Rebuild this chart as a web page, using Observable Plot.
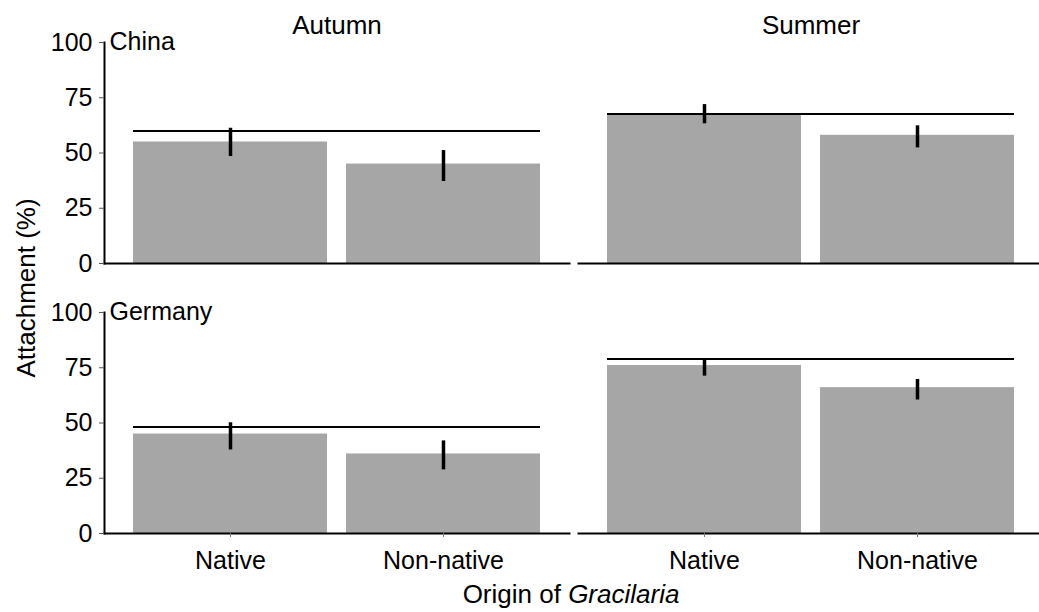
<!DOCTYPE html>
<html>
<head>
<meta charset="utf-8">
<script src="https://cdn.jsdelivr.net/npm/d3@7"></script>
<script src="https://cdn.jsdelivr.net/npm/@observablehq/plot@0.6"></script>
<style>
  html, body { margin: 0; padding: 0; background: white; overflow: hidden; }
  #chart { width: 1039px; height: 612px; overflow: hidden; }
</style>
</head>
<body>
<div id="chart"></div>
<script>
// ---- data ----
const seasons = ["Autumn", "Summer"];
const countries = ["China", "Germany"];
const origins = ["Native", "Non-native"];
const yTicks = [0, 25, 50, 75, 100];

const barCountry = ["China", "China", "China", "China", "Germany", "Germany", "Germany", "Germany"];
const barSeason  = ["Autumn", "Autumn", "Summer", "Summer", "Autumn", "Autumn", "Summer", "Summer"];
const barOrigin  = ["Native", "Non-native", "Native", "Non-native", "Native", "Non-native", "Native", "Non-native"];
const meanVals   = [55, 45, 67, 58, 45, 36, 76, 66];
const lowerVals  = [48.4, 37.1, 63.2, 52.3, 37.8, 28.8, 71.2, 60.4];
const upperVals  = [61.2, 51.1, 71.9, 62.3, 50.1, 41.9, 79.1, 69.7];

const refCountry = ["China", "China", "Germany", "Germany"];
const refSeason  = ["Autumn", "Summer", "Autumn", "Summer"];
const refValue   = [60, 67.6, 48.2, 79];

const xTitle = "Origin of ";
const xTitleItalic = "Gracilaria";
const yTitle = "Attachment (%)";

// ---- tables ----
const bars = barCountry.map((c, i) => ({
  country: c, season: barSeason[i], origin: barOrigin[i],
  mean: meanVals[i], lo: lowerVals[i], hi: upperVals[i]
}));
const refs = refCountry.map((c, i) => ({
  country: c, season: refSeason[i], value: refValue[i],
  from: origins[0], to: origins[origins.length - 1]
}));
const rowLabels = countries.map(c => ({country: c, season: seasons[0]}));

const W = 1039, H = 612;
const font = "'Liberation Sans', Arial, Helvetica, sans-serif";

const chart = Plot.plot({
  width: W, height: H,
  marginLeft: 103, marginRight: -4, marginTop: 42, marginBottom: 78,
  style: {fontFamily: font, fontSize: "25px", color: "black", background: "white"},
  fx: {domain: seasons, paddingInner: 0.02, paddingOuter: 0, label: null},
  fy: {domain: countries, paddingInner: 0.181, paddingOuter: 0, axis: null, label: null},
  x: {domain: origins, paddingInner: 0.09, paddingOuter: 0.134, label: null},
  y: {domain: [0, 100], label: null},
  marks: [
    Plot.barY(bars, {fx: "season", fy: "country", x: "origin", y: "mean", fill: "#a6a6a6"}),
    Plot.ruleY(refs, {fx: "season", fy: "country", y: "value", x1: "from", x2: "to", stroke: "black", strokeWidth: 2}),
    Plot.ruleX(bars, {fx: "season", fy: "country", x: "origin", y1: "lo", y2: "hi", stroke: "black", strokeWidth: 3.5}),
    Plot.frame({anchor: "bottom", stroke: "black", strokeWidth: 2}),
    Plot.frame({anchor: "left", facetAnchor: "left", stroke: "black", strokeWidth: 2}),
    Plot.axisY({anchor: "left", ticks: yTicks, tickSize: 5, tickPadding: 7, fontSize: 25, stroke: "#555", fill: "black", label: null}),
    Plot.axisX({anchor: "bottom", tickSize: 4, tickPadding: 14, fontSize: 25, stroke: "#777", fill: "black", label: null}),
    Plot.axisFx({anchor: "top", tickSize: 0, tickPadding: 9, fontSize: 26, fill: "black", label: null}),
    Plot.text(rowLabels, {fx: "season", fy: "country", text: "country", frameAnchor: "top-left",
      textAnchor: "start", lineAnchor: "bottom", dx: 5, dy: 7, fontSize: 25, fill: "black"})
  ]
});

document.getElementById("chart").appendChild(chart);

// axis titles
const svg = d3.select(chart);
const xt = svg.append("text")
  .attr("x", (103 + W) / 2).attr("y", 603)
  .attr("text-anchor", "middle")
  .attr("font-family", font).attr("font-size", 26).attr("fill", "black");
xt.append("tspan").text(xTitle);
xt.append("tspan").attr("font-style", "italic").text(xTitleItalic);

svg.append("text")
  .attr("transform", `translate(35,${(42 + 534) / 2}) rotate(-90)`)
  .attr("text-anchor", "middle")
  .attr("font-family", font).attr("font-size", 26).attr("fill", "black")
  .text(yTitle);
</script>
</body>
</html>
